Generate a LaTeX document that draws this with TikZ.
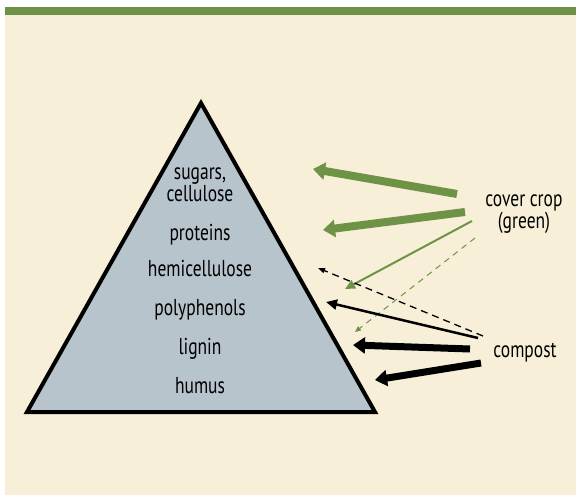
\documentclass[tikz,border=0pt]{standalone}
\usepackage{fontspec}
\setmainfont{PT Sans}[FakeStretch=0.76]
\usetikzlibrary{arrows.meta}
\definecolor{leaf}{HTML}{6E9346}
\definecolor{cream}{HTML}{F7EFD8}
\definecolor{slate}{HTML}{B7C4CC}

\begin{document}
\begin{tikzpicture}[x=1pt,y=-1pt, every node/.style={font=\fontsize{23}{22}\selectfont, inner sep=0pt, anchor=base},
    fatgreen/.style={leaf, line width=8pt, -{Triangle[length=12pt,width=17pt]}},
    thingreen/.style={leaf, line width=2pt, -{Triangle[length=10pt,width=9pt]}},
    dashgreen/.style={leaf, line width=1pt, dash pattern=on 6pt off 5pt, -{Triangle[length=6pt,width=5pt]}},
    dashblack/.style={black, line width=1.3pt, dash pattern=on 7pt off 5pt, -{Triangle[length=7pt,width=5pt]}},
    thinblack/.style={black, line width=2.5pt, -{Triangle[length=11pt,width=10pt]}},
    fatblack/.style={black, line width=7pt, -{Triangle[length=12pt,width=16pt]}}]
    \useasboundingbox (0,0) rectangle (576,496);
    \fill[white] (0,0) rectangle (576,496);
    \fill[cream] (5,15) rectangle (576,495);
    \fill[leaf] (5,7) rectangle (576,15);
    % pyramid
    \draw[line width=4pt, fill=slate, line join=miter] (201,103) -- (375,412) -- (27,412) -- cycle;
    \node[align=center] (sugars) at (200,201) {sugars,\\cellulose};
    \node (proteins) at (200,240) {proteins};
    \node (hemi) at (200,276) {hemicellulose};
    \node (poly) at (200,315) {polyphenols};
    \node (lignin) at (200,354) {lignin};
    \node (humus) at (200,393) {humus};
    % sources
    \node[align=center] (cover) at (524,228) {cover crop\\(green)};
    \node (compost) at (525,357) {compost};
    \coordinate (g1s) at (457,194); \coordinate (g1e) at (313,169);
    \coordinate (g2s) at (465,212); \coordinate (g2e) at (323,230);
    \coordinate (g3s) at (472,221); \coordinate (g3e) at (345,289);
    \coordinate (g4s) at (475,238); \coordinate (g4e) at (355,332);
    \coordinate (b1s) at (483,336); \coordinate (b1e) at (318,268);
    \coordinate (b2s) at (478,338); \coordinate (b2e) at (326,302);
    \coordinate (b3s) at (470,349); \coordinate (b3e) at (353,345);
    \coordinate (b4s) at (481,363); \coordinate (b4e) at (375,380);
    \draw[fatgreen] (g1s) -- (g1e);
    \draw[fatgreen] (g2s) -- (g2e);
    \draw[thingreen] (g3s) -- (g3e);
    \draw[dashgreen] (g4s) -- (g4e);
    \draw[dashblack] (b1s) -- (b1e);
    \draw[thinblack] (b2s) -- (b2e);
    \draw[fatblack] (b3s) -- (b3e);
    \draw[fatblack] (b4s) -- (b4e);
\end{tikzpicture}
\end{document}
